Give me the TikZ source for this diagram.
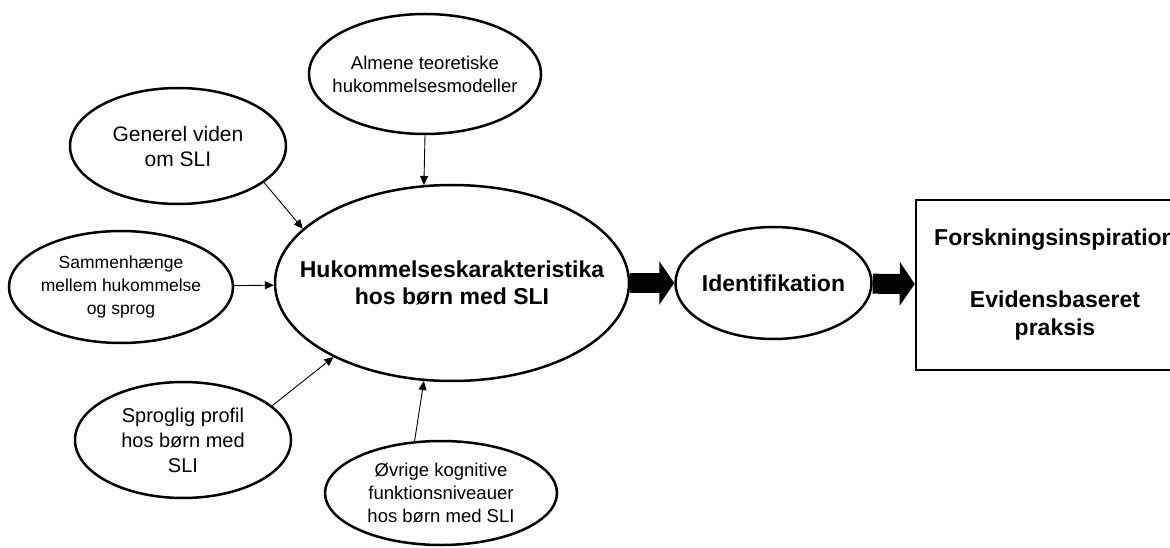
\documentclass[tikz,border=0pt]{standalone}
\usepackage{fontspec}
\setmainfont{Liberation Sans}
\usetikzlibrary{shapes.geometric, arrows.meta, positioning}

\begin{document}
\begin{tikzpicture}[
    x=1pt, y=-1pt,
    oval/.style 2 args={ellipse, draw, line width=2.5pt, inner sep=0pt, minimum width=#1, minimum height=#2},
    txt/.style 2 args={align=center, inner sep=0pt, font=\fontsize{#1}{#2}\selectfont},
    bold/.style={align=center, inner sep=0pt, font=\fontsize{23}{27}\selectfont\bfseries},
    line/.style={draw, -{Triangle[length=9pt, width=8pt]}, line width=0.9pt},
    fat/.style={draw, line width=20pt, -{Triangle[length=15pt, width=43pt]}}
]
    \useasboundingbox (0,0) rectangle (1170,548);

    % Nodes
    \node [oval={354pt}{196pt}] (hk) at (452,283) {};
    \node [bold] (hk-txt) at (hk) {Hukommelseskarakteristika\\hos børn med SLI};
    \node [oval={196pt}{112pt}, right=44pt of hk] (ident) {};
    \node [bold] (ident-txt) at (ident) {Identifikation};
    \node [draw, line width=2.5pt, minimum width=278pt, minimum height=170pt, right=42pt of ident, yshift=-2pt,
           align=center, font=\fontsize{23}{28}\selectfont\bfseries] (praksis)
          {Forskningsinspiration\\[34pt]Evidensbaseret\\praksis};

    \node [oval={232pt}{120pt}] (alm) at (425,74) {};
    \node [txt={18.5}{23}] (alm-txt) at (alm) {Almene teoretiske\\hukommelsesmodeller};
    \node [oval={216pt}{116pt}] (gen) at (178,146) {};
    \node [txt={21}{25}] (gen-txt) at (gen) {Generel viden\\om SLI};
    \node [oval={224pt}{112pt}] (sam) at (121,287) {};
    \node [txt={17.5}{23}] (sam-txt) at (sam) {Sammenhænge\\mellem hukommelse\\og sprog};
    \node [oval={216pt}{116pt}] (spr) at (183,440) {};
    \node [txt={20}{25}] (spr-txt) at (spr) {Sproglig profil\\hos børn med\\SLI};
    \node [oval={232pt}{104pt}] (ovr) at (441,493) {};
    \node [txt={18.5}{23}] (ovr-txt) at (ovr) {Øvrige kognitive\\funktionsniveauer\\hos børn med SLI};

    % Paths
    \path [line] (alm.south) -- (hk.106);
    \path [line] (gen.-23) -- (hk.160);
    \path [line] (sam) -- (hk);
    \path [line] (spr.21) -- (hk.212);
    \path [line] (ovr.117) -- (hk.-106);
    \path [fat] (hk) -- (ident);
    \path [fat] (ident) -- (praksis);
\end{tikzpicture}
\end{document}
